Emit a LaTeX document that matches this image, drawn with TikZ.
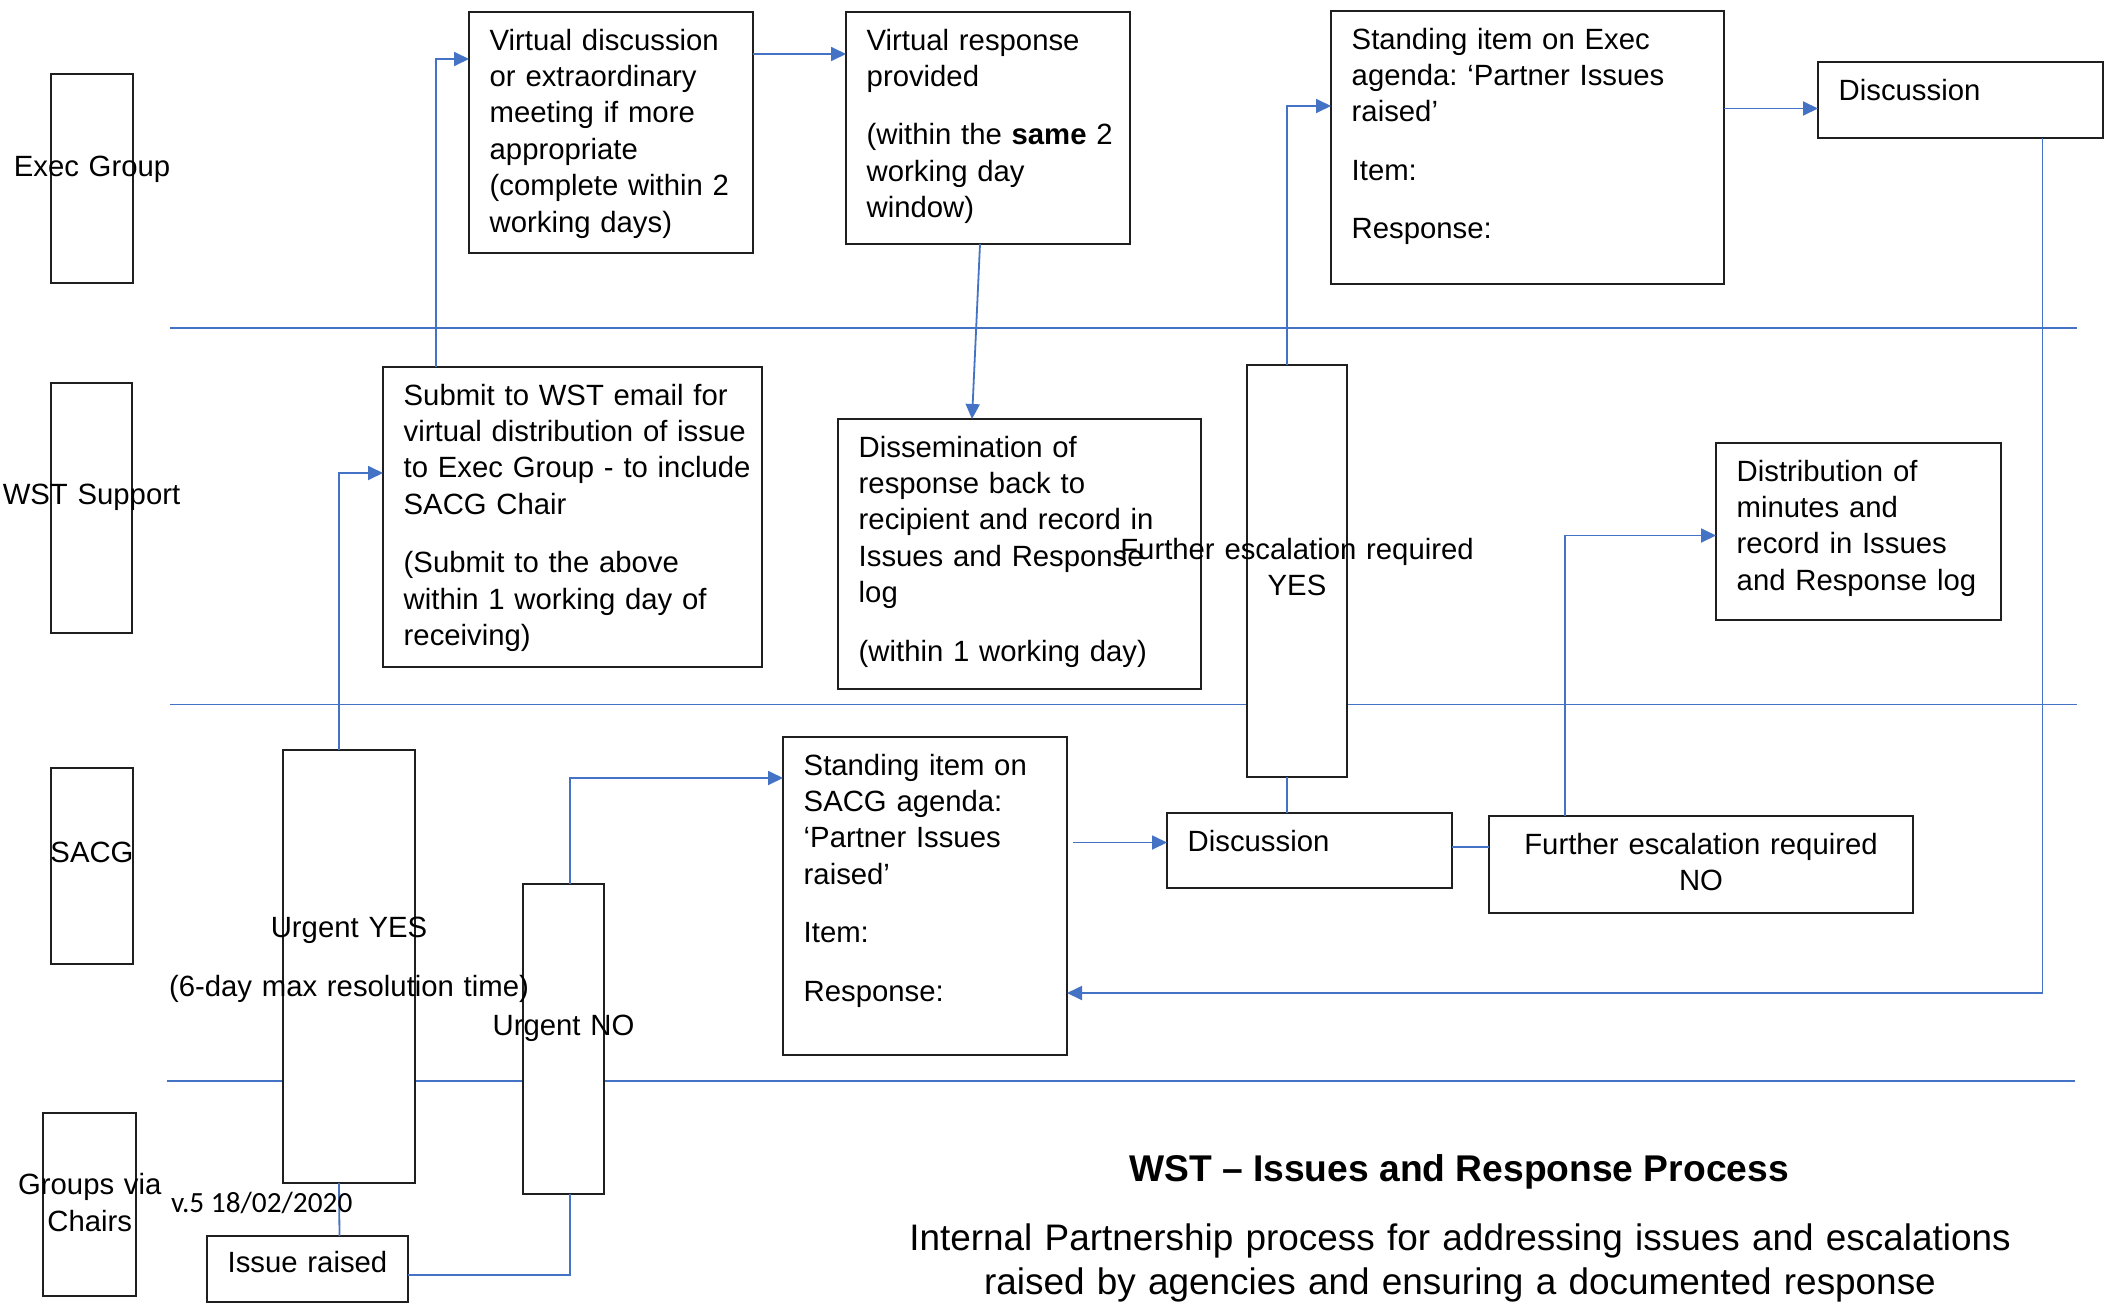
\documentclass[tikz,border=0pt]{standalone}
\usepackage{fontspec}
\setmainfont{Liberation Sans}
\newfontfamily\calibfont{Carlito}
\usetikzlibrary{arrows.meta}
\definecolor{lineblue}{HTML}{4472C4}
\definecolor{boxline}{HTML}{1F1F1F}
\frenchspacing
\begin{document}
\begin{tikzpicture}[x=1pt,y=-1pt,
  box/.style={draw=boxline, line width=2pt, fill=white, inner sep=0pt, outer sep=0pt, anchor=north west},
  txt/.style={anchor=base west, align=left, inner sep=0pt, text width=440pt, font=\fontsize{29.3pt}{36.4pt}\selectfont},
  ctxt/.style={anchor=base, align=center, inner sep=0pt, text width=560pt, font=\fontsize{29.3pt}{36.4pt}\selectfont},
  conn/.style={draw=lineblue, line width=1.8pt},
  arr/.style={conn, -{Triangle[length=15pt,width=14pt]}},
  lane/.style={draw=lineblue, line width=1.8pt}
]
\fill[white] (0,0) rectangle (2112,1304);
\useasboundingbox (0,0) rectangle (2112,1304);

% swimlane separators
\draw[lane] (170,328) -- (2077,328);
\draw[lane] (170,704.5) -- (2077,704.5);
\draw[lane] (167,1081) -- (2075,1081);

% lane label boxes
\node[box, minimum width=82pt, minimum height=209pt] (lg1) at (51,74) {};
\node[box, minimum width=81pt, minimum height=250pt] (lg2) at (51,383) {};
\node[box, minimum width=82pt, minimum height=196pt] (lg3) at (51,768) {};
\node[box, minimum width=93pt, minimum height=183pt] (lg4) at (43,1113) {};

% process boxes
\node[box, minimum width=284pt, minimum height=241pt] (vd) at (469,12) {};
\node[box, minimum width=284pt, minimum height=232pt] (vr) at (846,12) {};
\node[box, minimum width=393pt, minimum height=273pt] (es) at (1331,11) {};
\node[box, minimum width=285pt, minimum height=76pt] (ed) at (1818,62) {};
\node[box, minimum width=379pt, minimum height=300pt] (sub) at (383,367) {};
\node[box, minimum width=363pt, minimum height=270pt] (dis) at (838,419) {};
\node[box, minimum width=100pt, minimum height=412pt] (yes) at (1247,365) {};
\node[box, minimum width=285pt, minimum height=177pt] (dist) at (1716,443) {};
\node[box, minimum width=132pt, minimum height=433pt] (uy) at (283,750) {};
\node[box, minimum width=81pt, minimum height=310pt] (un) at (523,884) {};
\node[box, minimum width=284pt, minimum height=318pt] (ss) at (783,737) {};
\node[box, minimum width=285pt, minimum height=75pt] (sd) at (1167,813) {};
\node[box, minimum width=424pt, minimum height=97pt] (no) at (1489,816) {};
\node[box, minimum width=201pt, minimum height=66pt] (ir) at (207,1236) {};

% connectors
\draw[arr] ([xshift=-10pt]uy.north) |- ([yshift=44pt]sub.west);
\draw[arr] ([xshift=-136.5pt]sub.north) |- ([yshift=73.5pt]vd.west);
\coordinate (b1) at ([yshift=78.5pt]vd.east);
\draw[arr] (b1) -- (b1 -| vr.west);
\draw[arr] ([xshift=-8pt]vr.south) -- ([xshift=-47.5pt]dis.north);
\draw[arr] ([xshift=-10pt]yes.north) |- ([yshift=41.5pt]es.west);
\coordinate (e1) at ([xshift=-10pt]yes.south);
\draw[conn] (e1) -- (e1 |- sd.north);
\coordinate (f1) at ([yshift=39pt]es.east);
\draw[arr] (f1) -- (f1 -| ed.west);
\draw[arr] ([xshift=82pt]ed.south) |- ([yshift=-97pt]ss.east);
\coordinate (h1) at ([yshift=8pt]sd.west);
\draw[arr, shorten <=6pt] (h1 -| ss.east) -- (h1);
\coordinate (i1) at ([yshift=3.5pt]sd.east);
\draw[conn] (i1) -- (i1 -| no.west);
\draw[arr] ([xshift=-136pt]no.north) |- ([yshift=-4pt]dist.west);
\draw[conn] ([yshift=-6pt]ir.east) -| ([xshift=6.5pt]un.south);
\draw[conn] ([xshift=32pt]ir.north) -- ([xshift=-10pt]uy.south);
\draw[arr] ([xshift=6.5pt]un.north) |- ([yshift=118pt]ss.west);

% box texts
\node[txt] (vdt) at ([xshift=20.5pt,yshift=-38pt]vd.north west) {Virtual discussion\\or extraordinary\\meeting if more\\appropriate\\(complete within 2\\working days)};
\node[txt] (vrt) at ([xshift=20.5pt,yshift=-38pt]vr.north west) {Virtual response\\provided\\[22pt](within the \textbf{same} 2\\working day\\window)};
\node[txt] (est) at ([xshift=20.5pt,yshift=-38pt]es.north west) {Standing item on Exec\\agenda: ‘Partner Issues\\raised’\\[22pt]Item:\\[22pt]Response:};
\node[txt] (edt) at ([xshift=20.5pt,yshift=-38pt]ed.north west) {Discussion};
\node[txt] (subt) at ([xshift=20.5pt,yshift=-38pt]sub.north west) {Submit to WST email for\\virtual distribution of issue\\to Exec Group - to include\\SACG Chair\\[22pt](Submit to the above\\within 1 working day of\\receiving)};
\node[txt] (dist2) at ([xshift=20.5pt,yshift=-38pt]dis.north west) {Dissemination of\\response back to\\recipient and record in\\Issues and Response\\log\\[22pt](within 1 working day)};
\node[txt] (distt) at ([xshift=20.5pt,yshift=-38pt]dist.north west) {Distribution of\\minutes and\\record in Issues\\and Response log};
\node[txt] (sst) at ([xshift=20.5pt,yshift=-38pt]ss.north west) {Standing item on\\SACG agenda:\\‘Partner Issues\\raised’\\[22pt]Item:\\[22pt]Response:};
\node[txt] (sdt) at ([xshift=20.5pt,yshift=-38pt]sd.north west) {Discussion};
\node[txt] (irt) at ([xshift=20.5pt,yshift=-36.5pt]ir.north west) {Issue raised};

% centred texts
\node[ctxt] (yest) at (1297,559) {Further escalation required\\YES};
\node[ctxt] (not) at (1701,854) {Further escalation required\\NO};
\node[ctxt] (uyt) at (349,937.7) {Urgent YES\\[22pt](6-day max resolution time)};
\node[ctxt] (unt) at (563.5,1035.7) {Urgent NO};

% lane labels
\node[ctxt] (lt1) at (92,176.3) {Exec Group};
\node[ctxt] (lt2) at (91.5,504.4) {WST Support};
\node[ctxt] (lt3) at (92,862.7) {SACG};
\node[ctxt, font=\fontsize{29.3pt}{37pt}\selectfont] (lt4) at (89.8,1194) {Groups via\\Chairs};

% version and title
\node[anchor=base west, inner sep=0pt, font=\calibfont\fontsize{29.3pt}{36pt}\selectfont] (ver) at (171,1212) {v.5 18/02/2020};
\node[anchor=base, inner sep=0pt, font=\bfseries\fontsize{37.2pt}{44pt}\selectfont] (title) at (1459,1181.7) {WST – Issues and Response Process};
\node[anchor=base, align=center, inner sep=0pt, text width=1300pt, font=\fontsize{36.9pt}{43.5pt}\selectfont] (subtitle) at (1460,1250.5) {Internal Partnership process for addressing issues and escalations\\raised by agencies and ensuring a documented response};
\end{tikzpicture}
\end{document}
